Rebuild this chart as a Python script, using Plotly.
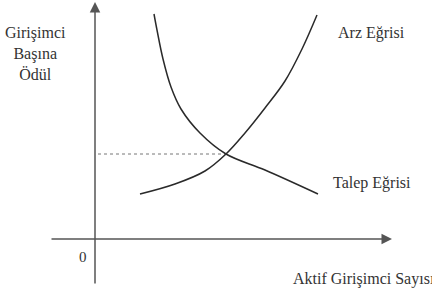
import plotly.graph_objects as go

# Curve data (origin at axes intersection)
demand_x = [59, 62, 68, 76, 86, 105, 131, 170, 223]
demand_y = [225, 209, 180, 152, 130, 106, 85, 69, 45]
supply_x = [45, 80, 110, 131, 150, 170, 190, 207, 222]
supply_y = [45, 55, 68, 85, 106, 131, 158, 190, 224]
equilibrium = (131, 85)

y_label = "Girişimci<br>Başına<br>Ödül"
x_label = "Aktif Girişimci Sayısı"
supply_label = "Arz Eğrisi"
demand_label = "Talep Eğrisi"
origin_label = "0"

FONT = "serif"
TXT = "#333333"
LINE = "#2a2a2a"

fig = go.Figure()
fig.add_trace(go.Scatter(x=[3, equilibrium[0]], y=[equilibrium[1]] * 2, mode="lines",
                         line=dict(color="#777777", width=1, dash="dot"), hoverinfo="skip"))
fig.add_trace(go.Scatter(x=demand_x, y=demand_y, mode="lines", line_shape="spline",
                         line=dict(color=LINE, width=1.5), hoverinfo="skip"))
fig.add_trace(go.Scatter(x=supply_x, y=supply_y, mode="lines", line_shape="spline",
                         line=dict(color=LINE, width=1.5), hoverinfo="skip"))

ann = []
# axes with arrows
ann.append(dict(x=0, y=237, ax=0, ay=-46, xref="x", yref="y", axref="x", ayref="y",
                text="", showarrow=True, arrowhead=2, arrowsize=1.4, arrowwidth=1.5,
                arrowcolor="#555555"))
ann.append(dict(x=297, y=0, ax=-45, ay=0, xref="x", yref="y", axref="x", ayref="y",
                text="", showarrow=True, arrowhead=2, arrowsize=1.4, arrowwidth=1.5,
                arrowcolor="#555555"))
ann.append(dict(x=-60, y=186, text=y_label, showarrow=False, xanchor="center", yanchor="middle",
                font=dict(family=FONT, size=16, color=TXT)))
ann.append(dict(x=241, y=206, text=supply_label, showarrow=False, xanchor="left", yanchor="middle",
                font=dict(family=FONT, size=16, color=TXT)))
ann.append(dict(x=236, y=56, text=demand_label, showarrow=False, xanchor="left", yanchor="middle",
                font=dict(family=FONT, size=16, color=TXT)))
ann.append(dict(x=-12, y=-18, text=origin_label, showarrow=False, xanchor="center", yanchor="middle",
                font=dict(family=FONT, size=15, color=TXT)))
ann.append(dict(x=196, y=-40, text=x_label, showarrow=False, xanchor="left", yanchor="middle",
                font=dict(family=FONT, size=16, color=TXT)))

fig.update_layout(
    width=432, height=290, margin=dict(l=0, r=0, t=0, b=0),
    paper_bgcolor="white", plot_bgcolor="white", showlegend=False,
    font=dict(family=FONT),
    xaxis=dict(range=[-95, 337], visible=False, fixedrange=True),
    yaxis=dict(range=[-51, 239], visible=False, fixedrange=True),
    annotations=ann,
)
fig.write_html("out.html", config={"displayModeBar": False})
